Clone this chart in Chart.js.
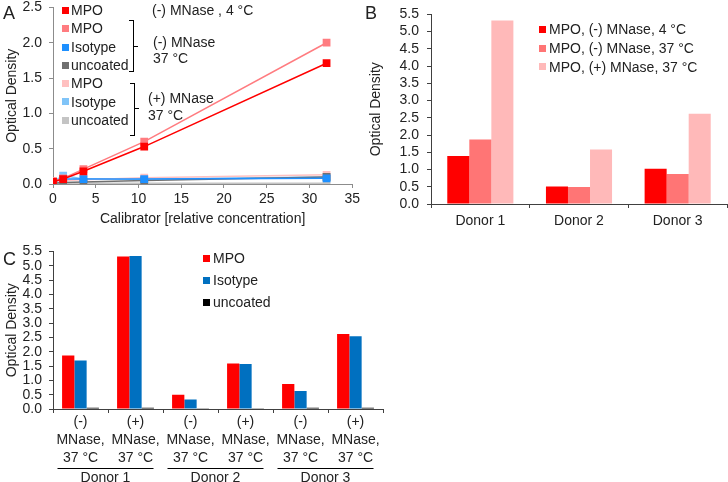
<!DOCTYPE html>
<html lang="en">
<head>
<meta charset="UTF-8">
<title>MPO ELISA</title>
<script src="https://cdn.jsdelivr.net/npm/chart.js"></script>
<style>
  body { margin: 0; width: 728px; height: 482px; position: relative; overflow: hidden; background: #fff;
         font-family: "Liberation Sans", Arial, sans-serif; color: #222; }
  .box { position: absolute; }
  .t { position: absolute; font-size: 14px; line-height: 16px; white-space: nowrap; }
  .sq { position: absolute; width: 7px; height: 7px; }
  .letter { position: absolute; font-size: 18px; line-height: 18px; }
  .br { position: absolute; border: 1px solid #000; border-left: none; width: 4px; }
  .tick { position: absolute; height: 1px; width: 4px; background: #000; }
</style>
</head>
<body>

<div class="box" style="left:0;top:-8px"><canvas id="chartA" width="363" height="240"></canvas></div>
<div class="box" style="left:360px;top:-2px"><canvas id="chartB" width="368" height="234"></canvas></div>
<div class="box" style="left:0;top:236px"><canvas id="chartC" width="400" height="246"></canvas></div>

<!-- panel letters -->
<div class="letter" style="left:3px;top:4px">A</div>
<div class="letter" style="left:365px;top:4px">B</div>
<div class="letter" style="left:3px;top:250px">C</div>

<!-- legend A -->
<div class="sq" style="left:62px;top:7px;background:#ff0000"></div><div class="t" style="left:71px;top:2px">MPO</div>
<div class="sq" style="left:62px;top:25px;background:#ff7c80"></div><div class="t" style="left:71px;top:20px">MPO</div>
<div class="sq" style="left:62px;top:44px;background:#1e90ff"></div><div class="t" style="left:71px;top:39px">Isotype</div>
<div class="sq" style="left:62px;top:62px;background:#707070"></div><div class="t" style="left:71px;top:57px">uncoated</div>
<div class="sq" style="left:62px;top:80px;background:#ffc0c0"></div><div class="t" style="left:71px;top:75px">MPO</div>
<div class="sq" style="left:62px;top:98px;background:#80c4f8"></div><div class="t" style="left:71px;top:94px">Isotype</div>
<div class="sq" style="left:62px;top:117px;background:#c4c4c4"></div><div class="t" style="left:71px;top:112px">uncoated</div>

<div class="t" style="left:152px;top:2px">(-) MNase , 4 °C</div>
<div class="br" style="left:129px;top:20px;height:50px"></div>
<div class="tick" style="left:134px;top:46px"></div>
<div class="t" style="left:153px;top:34px">(-) MNase</div>
<div class="t" style="left:153px;top:50px">37 °C</div>
<div class="br" style="left:130px;top:83px;height:51px"></div>
<div class="tick" style="left:135px;top:108px"></div>
<div class="t" style="left:148px;top:90px">(+) MNase</div>
<div class="t" style="left:148px;top:107px">37 °C</div>

<!-- legend B -->
<div class="sq" style="left:539px;top:26px;background:#ff0000"></div><div class="t" style="left:549px;top:21px">MPO, (-) MNase, 4 °C</div>
<div class="sq" style="left:539px;top:45px;background:#ff7575"></div><div class="t" style="left:549px;top:40px">MPO, (-) MNase, 37 °C</div>
<div class="sq" style="left:539px;top:63px;background:#ffb9b9"></div><div class="t" style="left:549px;top:59px">MPO, (+) MNase, 37 °C</div>

<!-- legend C -->
<div class="sq" style="left:203px;top:255px;background:#ff0000"></div><div class="t" style="left:213px;top:250px">MPO</div>
<div class="sq" style="left:203px;top:277px;background:#0070c0"></div><div class="t" style="left:213px;top:272px">Isotype</div>
<div class="sq" style="left:203px;top:299px;background:#000000"></div><div class="t" style="left:213px;top:294px">uncoated</div>

<script>
// ---- data, panel A (calibrator curve) ----
const calibrator = [0, 1.19, 3.56, 10.67, 32];
const mpo4C      = [0.03, 0.07, 0.18, 0.53, 1.71];
const mpo37      = [0.04, 0.08, 0.21, 0.60, 2.00];
const iso37      = [0.03, 0.07, 0.07, 0.07, 0.08];
const unc37      = [0.01, 0.02, 0.03, 0.05, 0.10];
const mpoNuc     = [0.04, 0.05, 0.06, 0.09, 0.13];
const isoNuc     = [0.03, 0.12, 0.07, 0.07, 0.10];
const uncNuc     = [0.01, 0.01, 0.01, 0.01, 0.01];

// ---- data, panel B ----
const donors      = ['Donor 1', 'Donor 2', 'Donor 3'];
const bMpo4C      = [1.39, 0.51, 1.02];
const bMpo37      = [1.87, 0.49, 0.87];
const bMpoNuc37   = [5.32, 1.58, 2.62];

// ---- data, panel C ----
const conditions = [
  ['(-)', 'MNase,', '37 °C'], ['(+)', 'MNase,', '37 °C'],
  ['(-)', 'MNase,', '37 °C'], ['(+)', 'MNase,', '37 °C'],
  ['(-)', 'MNase,', '37 °C'], ['(+)', 'MNase,', '37 °C']
];
const cMpo      = [1.87, 5.32, 0.50, 1.59, 0.87, 2.62];
const cIsotype  = [1.69, 5.34, 0.33, 1.57, 0.63, 2.54];
const cUncoated = [0.04, 0.04, 0.03, 0.03, 0.04, 0.04];

const odTicks = [0, 0.5, 1, 1.5, 2, 2.5, 3, 3.5, 4, 4.5, 5, 5.5];

Chart.defaults.font.family = '"Liberation Sans", Arial, sans-serif';
Chart.defaults.font.size = 14;
Chart.defaults.color = '#222';
Chart.defaults.animation = false;

const pts = ys => calibrator.map((x, i) => ({ x: x, y: ys[i] }));
const line = (ys, col) => ({
  data: pts(ys), showLine: true, borderColor: col, backgroundColor: col,
  borderWidth: 1.5, pointStyle: 'rect', pointRadius: 5.5, pointBorderWidth: 0
});

function fixWidth(w) { return s => { s.width = w; }; }
function fixHeight(h) { return s => { s.height = h; }; }

// panel A
new Chart(document.getElementById('chartA'), {
  type: 'scatter',
  data: {
    datasets: [
      line(mpo4C, '#ff0000'),
      line(mpo37, '#ff7c80'),
      line(iso37, '#1e90ff'),
      line(unc37, '#707070'),
      line(mpoNuc, '#ffc0c0'),
      line(isoNuc, '#80c4f8'),
      line(uncNuc, '#c4c4c4')
    ]
  },
  options: {
    responsive: false,
    devicePixelRatio: 1,
    layout: { padding: 0 },
    plugins: { legend: { display: false }, tooltip: { enabled: false } },
    scales: {
      x: {
        type: 'linear', min: 0, max: 35,
        ticks: { stepSize: 5, padding: 3 },
        grid: { drawOnChartArea: false, tickLength: 4, color: '#8c8c8c' },
        border: { color: '#8c8c8c' },
        title: { display: true, text: 'Calibrator [relative concentration]', padding: { top: 0, bottom: 4 } },
        afterFit: fixHeight(48)
      },
      y: {
        min: 0, max: 2.5,
        ticks: { stepSize: 0.5, padding: 7, callback: v => v.toFixed(1) },
        grid: { drawOnChartArea: false, tickLength: 4, color: '#8c8c8c' },
        border: { color: '#8c8c8c' },
        title: { display: true, text: 'Optical Density', padding: { top: 4, bottom: 0 } },
        afterFit: fixWidth(53)
      }
    }
  }
});

// panel B
new Chart(document.getElementById('chartB'), {
  type: 'bar',
  data: {
    labels: donors,
    datasets: [
      { data: bMpo4C, backgroundColor: '#ff0000' },
      { data: bMpo37, backgroundColor: '#ff7575' },
      { data: bMpoNuc37, backgroundColor: '#ffb9b9' }
    ]
  },
  options: {
    responsive: false,
    devicePixelRatio: 1,
    categoryPercentage: 0.67,
    barPercentage: 1,
    layout: { padding: { top: 0, right: 1, bottom: 0, left: 0 } },
    plugins: { legend: { display: false }, tooltip: { enabled: false } },
    scales: {
      x: {
        ticks: { padding: 5 },
        grid: { drawOnChartArea: false, tickLength: 4, color: '#404040' },
        border: { color: '#404040' },
        afterFit: fixHeight(28)
      },
      y: {
        min: 0, max: 5.5,
        afterBuildTicks: s => { s.ticks = odTicks.map(v => ({ value: v })); },
        ticks: { padding: 8, autoSkip: false, callback: v => v.toFixed(1) },
        grid: { drawOnChartArea: false, tickLength: 4, color: '#404040' },
        border: { color: '#404040' },
        title: { display: true, text: 'Optical Density', padding: { top: 8, bottom: 0 } },
        afterFit: fixWidth(71)
      }
    }
  }
});

// panel C, with donor group labels under the condition labels
const donorGroups = {
  id: 'donorGroups',
  afterDraw(chart) {
    const x = chart.scales.x;
    const ctx = chart.ctx;
    const yLine = chart.chartArea.bottom + 59.5;
    ctx.save();
    ctx.strokeStyle = '#000';
    ctx.lineWidth = 1;
    ctx.fillStyle = '#222';
    ctx.font = '14px "Liberation Sans", Arial, sans-serif';
    ctx.textAlign = 'center';
    ctx.textBaseline = 'middle';
    donors.forEach((name, i) => {
      const mid = (x.getPixelForValue(2 * i) + x.getPixelForValue(2 * i + 1)) / 2 - 2.5;
      ctx.beginPath();
      ctx.moveTo(mid - 48, yLine);
      ctx.lineTo(mid + 48, yLine);
      ctx.stroke();
      ctx.fillText(name, mid, yLine + 10);
    });
    ctx.restore();
  }
};

new Chart(document.getElementById('chartC'), {
  type: 'bar',
  data: {
    labels: conditions,
    datasets: [
      { data: cMpo, backgroundColor: '#ff0000' },
      { data: cIsotype, backgroundColor: '#0070c0' },
      { data: cUncoated, backgroundColor: '#000000' }
    ]
  },
  options: {
    responsive: false,
    devicePixelRatio: 1,
    categoryPercentage: 0.67,
    barPercentage: 1,
    layout: { padding: { top: 4, right: 17, bottom: 0, left: 0 } },
    plugins: { legend: { display: false }, tooltip: { enabled: false } },
    scales: {
      x: {
        ticks: { padding: 0, maxRotation: 0, font: { lineHeight: 1.3 } },
        grid: { drawOnChartArea: false, tickLength: 4, color: '#404040' },
        border: { color: '#404040' },
        afterFit: fixHeight(73)
      },
      y: {
        min: 0, max: 5.5,
        afterBuildTicks: s => { s.ticks = odTicks.map(v => ({ value: v })); },
        ticks: { padding: 7, autoSkip: false, callback: v => v.toFixed(1) },
        grid: { drawOnChartArea: false, tickLength: 4, color: '#404040' },
        border: { color: '#404040' },
        title: { display: true, text: 'Optical Density', padding: { top: 4, bottom: 0 } },
        afterFit: fixWidth(53)
      }
    }
  },
  plugins: [donorGroups]
});
</script>
</body>
</html>
